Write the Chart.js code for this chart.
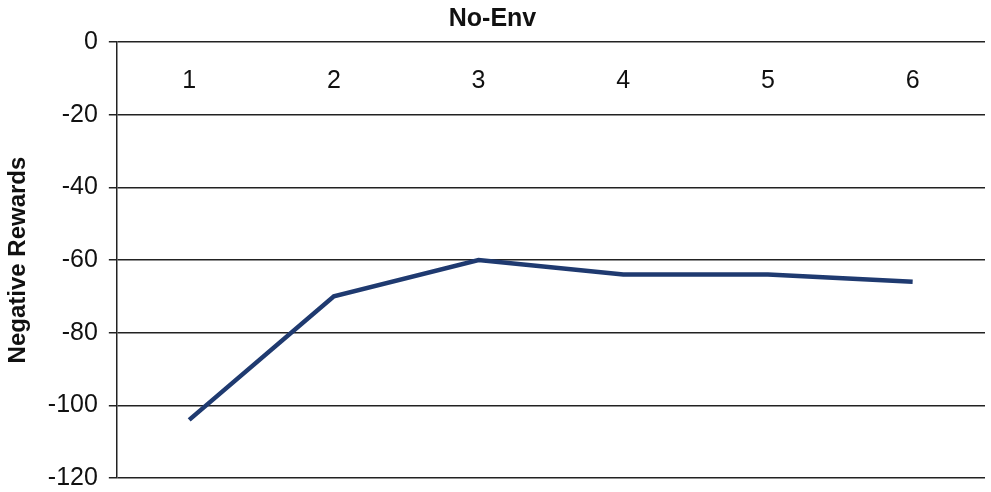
<!DOCTYPE html>
<html>
<head>
<meta charset="utf-8">
<script src="https://cdn.jsdelivr.net/npm/chart.js@4/dist/chart.umd.min.js"></script>
<style>
  html, body { margin: 0; padding: 0; background: #fff; }
  #wrap { width: 991px; height: 492px; }
</style>
</head>
<body>
<div id="wrap"><canvas id="c"></canvas></div>
<script>
// episodes on the category axis
const episodes = ['1', '2', '3', '4', '5', '6'];
// negative rewards
const rewards = [-104, -70, -60, -64, -64, -66];
// y axis ticks
const yTicks = [0, -20, -40, -60, -80, -100, -120];

Chart.defaults.font.family = '"Liberation Sans", Arial, sans-serif';
Chart.defaults.color = '#111';

const ctx = document.getElementById('c');
new Chart(ctx, {
    type: 'line',
    data: {
        labels: episodes,
        datasets: [{
            label: 'No-Env',
            data: rewards,
            borderColor: '#1f3a70',
            borderWidth: 4.5,
            pointRadius: 0,
            tension: 0,
            fill: false
        }]
    },
    options: {
        responsive: true,
        maintainAspectRatio: false,
        animation: false,
        layout: { padding: { left: 0, right: 6, top: 0, bottom: 0 } },
        plugins: {
            legend: { display: false },
            tooltip: { enabled: false },
            title: {
                display: true,
                text: 'No-Env',
                font: { size: 25, weight: 'bold' },
                color: '#111',
                padding: { top: 4, bottom: 8 }
            }
        },
        scales: {
            x: {
                // category axis crosses at 0, labels sit under the top line
                position: { y: 0 },
                offset: true,
                grid: { display: false, drawTicks: false },
                border: { display: false },
                ticks: { padding: 24, font: { size: 25 }, color: '#111' },
                afterFit: scale => { scale.height = 0; }
            },
            y: {
                min: -120,
                max: 0,
                afterBuildTicks: scale => {
                    scale.ticks = yTicks.map(v => ({ value: v }));
                },
                // only keep half a label of room under -120
                afterFit: scale => { scale.paddingBottom = 14; },
                grid: {
                    color: '#222',
                    lineWidth: 1.5,
                    drawTicks: true,
                    tickLength: 8
                },
                border: { display: true, color: '#222', width: 1.5 },
                ticks: { padding: 11, font: { size: 25 }, color: '#111' },
                title: {
                    display: true,
                    text: 'Negative Rewards',
                    font: { size: 24, weight: 'bold' },
                    color: '#111',
                    padding: { top: 4, bottom: 4 }
                }
            }
        }
    }
});
</script>
</body>
</html>
